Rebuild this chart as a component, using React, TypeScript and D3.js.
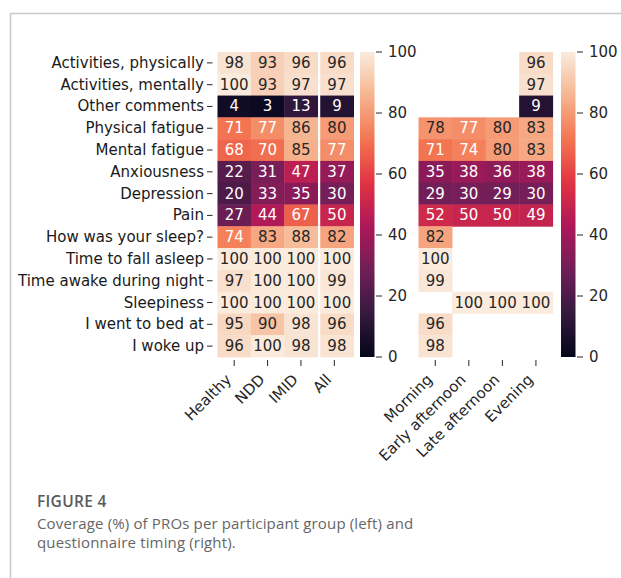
import React from "react";
import * as d3 from "d3";

const rows = [
  "Activities, physically",
  "Activities, mentally",
  "Other comments",
  "Physical fatigue",
  "Mental fatigue",
  "Anxiousness",
  "Depression",
  "Pain",
  "How was your sleep?",
  "Time to fall asleep",
  "Time awake during night",
  "Sleepiness",
  "I went to bed at",
  "I woke up",
];

const groupLabels = ["Healthy", "NDD", "IMID", "All"];
const timingLabels = ["Morning", "Early afternoon", "Late afternoon", "Evening"];

const healthy = [98, 100, 4, 71, 68, 22, 20, 27, 74, 100, 97, 100, 95, 96];
const ndd = [93, 93, 3, 77, 70, 31, 33, 44, 83, 100, 100, 100, 90, 100];
const imid = [96, 97, 13, 86, 85, 47, 35, 67, 88, 100, 100, 100, 98, 98];
const all = [96, 97, 9, 80, 77, 37, 30, 50, 82, 100, 99, 100, 96, 98];

const morning = [null, null, null, 78, 71, 35, 29, 52, 82, 100, 99, null, 96, 98];
const earlyAfternoon = [null, null, null, 77, 74, 38, 30, 50, null, null, null, 100, null, null];
const lateAfternoon = [null, null, null, 80, 80, 36, 29, 50, null, null, null, 100, null, null];
const evening = [96, 97, 9, 83, 83, 38, 30, 49, null, null, null, 100, null, null];

const colorbarTicks = [0, 20, 40, 60, 80, 100];

const rocketStops = ["#03051a", "#35193e", "#701f57", "#ad1759", "#e13342", "#f37651", "#f6b48f", "#faebdd"];

const color = d3
  .scaleLinear<string>()
  .domain(rocketStops.map((_, i) => (i * 100) / (rocketStops.length - 1)))
  .range(rocketStops)
  .interpolate(d3.interpolateRgb)
  .clamp(true);

function lin(c: number) {
  const v = c / 255;
  return v <= 0.03928 ? v / 12.92 : Math.pow((v + 0.055) / 1.055, 2.4);
}
function textColor(v: number) {
  const c = d3.rgb(color(v));
  const lum = 0.2126 * lin(c.r) + 0.7152 * lin(c.g) + 0.0722 * lin(c.b);
  return lum > 0.408 ? "#262626" : "#ffffff";
}

const FONT = "DejaVu Sans";
const FS = 15;

const top = 52;
const bottom = 357;

export default function App() {
  const y = d3.scaleBand<string>().domain(rows).range([top, bottom]);
  const xL = d3.scaleBand<string>().domain(groupLabels).range([217.5, 351]);
  const xR = d3.scaleBand<string>().domain(timingLabels).range([418.5, 552.7]);
  const cb = d3.scaleLinear().domain([0, 100]).range([bottom, top]);

  const leftCols: [string, (number | null)[]][] = [
    ["Healthy", healthy],
    ["NDD", ndd],
    ["IMID", imid],
    ["All", all],
  ];
  const rightCols: [string, (number | null)[]][] = [
    ["Morning", morning],
    ["Early afternoon", earlyAfternoon],
    ["Late afternoon", lateAfternoon],
    ["Evening", evening],
  ];

  const gradStops = d3.range(0, 101, 2);

  const renderCells = (
    cols: [string, (number | null)[]][],
    x: d3.ScaleBand<string>,
    keyPrefix: string
  ) =>
    cols.flatMap(([c, vals]) =>
      vals.map((v, i) => {
        if (v === null) return null;
        const off = c === "All" ? 2.6 : 0;
        const cx = (x(c) as number) + off;
        const cy = y(rows[i]) as number;
        return (
          <g key={`${keyPrefix}-${c}-${i}`}>
            <rect x={cx} y={cy} width={x.bandwidth() + 0.4} height={y.bandwidth() + 0.4} fill={color(v)} />
            <text
              x={cx + x.bandwidth() / 2}
              y={cy + y.bandwidth() / 2}
              textAnchor="middle"
              dominantBaseline="central"
              fontFamily={FONT}
              fontSize={FS}
              fill={textColor(v)}
            >
              {v}
            </text>
          </g>
        );
      })
    );

  const colorbar = (x0: number, id: string) => (
    <g>
      <rect x={x0} y={top} width={14.5} height={bottom - top} fill={`url(#${id})`} />
      {colorbarTicks.map((t) => (
        <g key={t}>
          <line x1={x0 + 16} x2={x0 + 22} y1={cb(t)} y2={cb(t)} stroke="#262626" strokeWidth={1} />
          <text x={x0 + 28} y={cb(t)} dominantBaseline="central" fontFamily={FONT} fontSize={FS} fill="#262626">
            {t}
          </text>
        </g>
      ))}
    </g>
  );

  const xTicks = (labels: string[], x: d3.ScaleBand<string>) =>
    labels.map((c) => {
      const cx = (x(c) as number) + x.bandwidth() / 2;
      return (
        <g key={c}>
          <line x1={cx} x2={cx} y1={360} y2={366} stroke="#262626" strokeWidth={1} />
          <text
            transform={`translate(${cx - 2},${380.5}) rotate(-45)`}
            textAnchor="end"
            fontFamily={FONT}
            fontSize={FS}
            fill="#262626"
          >
            {c}
          </text>
        </g>
      );
    });

  return (
    <svg
      width={621}
      height={578}
      style={{ position: "absolute", left: 0, top: 0, background: "#fff" }}
    >
      <defs>
        {["cb1", "cb2"].map((id) => (
          <linearGradient key={id} id={id} x1="0" y1="1" x2="0" y2="0">
            {gradStops.map((s) => (
              <stop key={s} offset={`${s}%`} stopColor={color(s)} />
            ))}
          </linearGradient>
        ))}
      </defs>
      <rect x={0} y={0} width={621} height={578} fill="#fff" />
      <path d="M10.5,578 V13.5 H621" fill="none" stroke="#c8c8c8" strokeWidth={1.5} />

      {rows.map((r) => {
        const cy = (y(r) as number) + y.bandwidth() / 2;
        return (
          <g key={r}>
            <text x={204} y={cy} textAnchor="end" dominantBaseline="central" fontFamily={FONT} fontSize={FS} fill="#1a1a1a">
              {r}
            </text>
            <line x1={207} x2={212.5} y1={cy} y2={cy} stroke="#262626" strokeWidth={1} />
          </g>
        );
      })}

      {renderCells(leftCols, xL, "L")}
      {renderCells(rightCols, xR, "R")}

      {colorbar(360, "cb1")}
      {colorbar(561, "cb2")}

      {xTicks(groupLabels, xL)}
      {xTicks(timingLabels, xR)}

      <text x={37} y={506.5} fontFamily="Open Sans" fontWeight={600} fontSize={15.5} fill="#5a5a5a" letterSpacing={0.3}>
        FIGURE 4
      </text>
      <text x={37} y={528.8} fontFamily="Open Sans" fontSize={15} fill="#666" letterSpacing={0.15}>
        Coverage (%) of PROs per participant group (left) and
      </text>
      <text x={37} y={547.8} fontFamily="Open Sans" fontSize={15} fill="#666" letterSpacing={0.15}>
        questionnaire timing (right).
      </text>
    </svg>
  );
}
